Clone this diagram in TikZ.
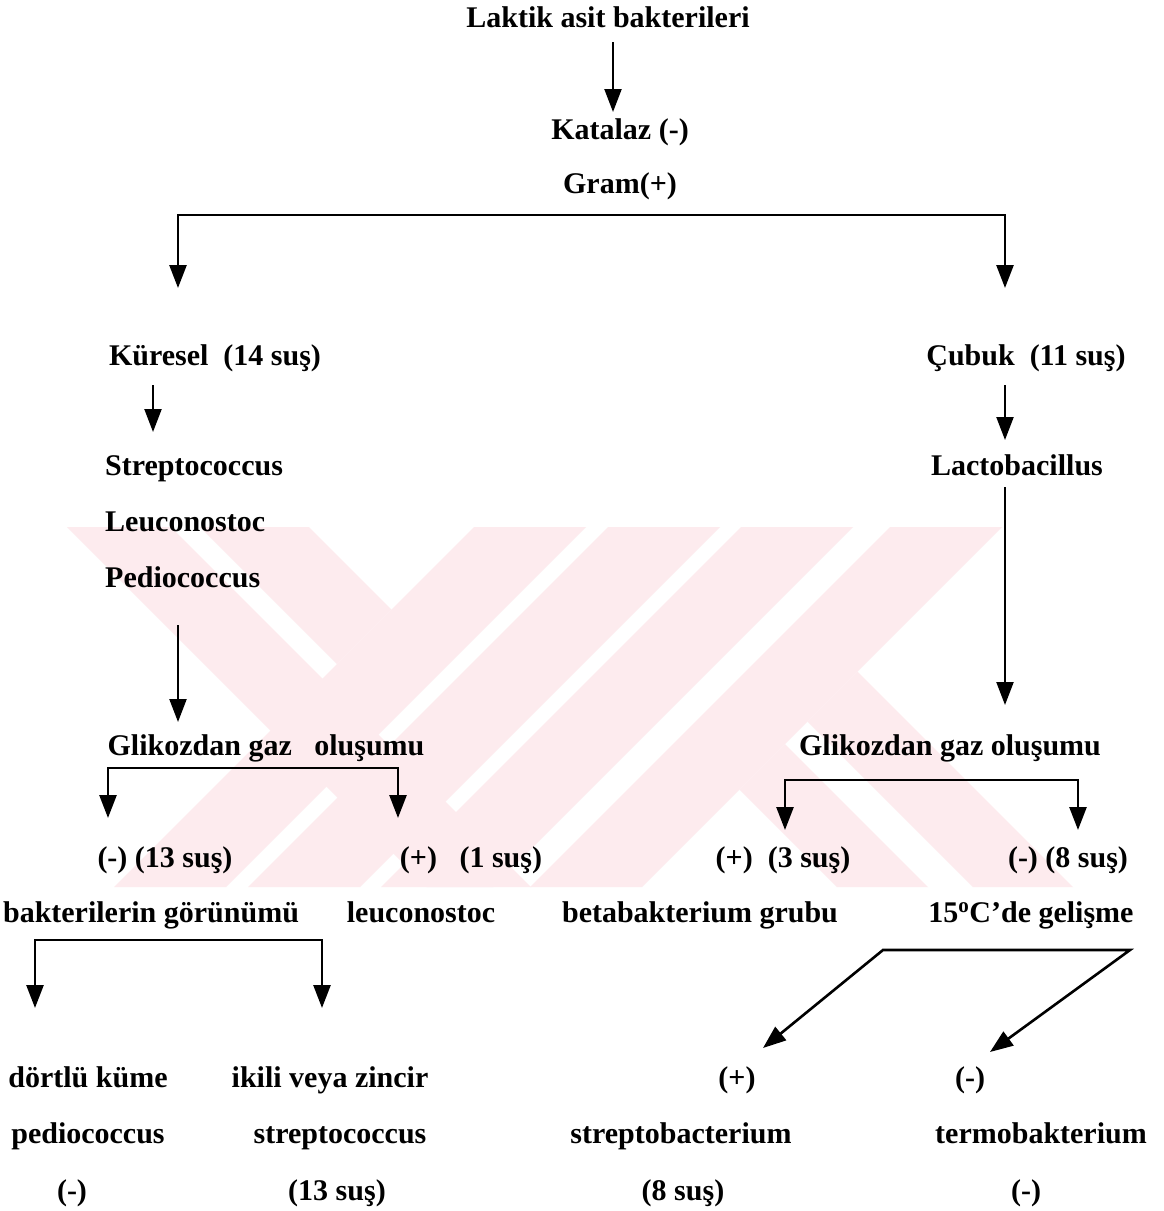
\documentclass[tikz,border=0pt]{standalone}
\usepackage{fontspec}
\setmainfont{Liberation Serif}
\usetikzlibrary{arrows.meta}
\definecolor{wmpink}{RGB}{253,235,238}

\begin{document}
\begin{tikzpicture}[x=1pt,y=-1pt,>={Triangle[length=23pt,width=17pt]},
  lbl/.style={anchor=base,inner sep=0pt,font=\fontsize{30}{32}\selectfont\bfseries},
  lblw/.style={lbl,anchor=base west},
  arr/.style={->,line width=2.2pt},
  fork/.style={<->,line width=2.6pt,line join=miter}]
\useasboundingbox (0,0) rectangle (1164,1211);
\fill[white] (0,0) rectangle (1164,1211);
% watermark bands
\fill[wmpink] (474,527) -- (586,527) -- (226,887) -- (114,887) -- cycle;
\fill[wmpink] (608,527) -- (720,527) -- (360,887) -- (248,887) -- cycle;
\fill[wmpink] (741,527) -- (853,527) -- (493,887) -- (381,887) -- cycle;
\fill[wmpink] (890,527) -- (1002,527) -- (642,887) -- (530,887) -- cycle;
\fill[wmpink] (67,527) -- (171,527) -- (531,887) -- (427,887) -- cycle;
\fill[wmpink] (200,527) -- (309,527) -- (391.5,609.5) -- (337,664) -- cycle;
\fill[wmpink] (785,744) -- (928,887) -- (837,887) -- (739.5,789.5) -- cycle;
\fill[wmpink] (857.5,671.5) -- (1073,887) -- (973,887) -- (807.5,721.5) -- cycle;

% labels
\node[lbl] (lab) at (608,27) {Laktik asit bakterileri};
\node[lbl] (kat) at (620,139) {Katalaz (-)};
\node[lbl] (gram) at (620,193) {Gram(+)};
\node[lbl] (kur) at (215,365) {Küresel\ \ (14 suş)};
\node[lbl] (cub) at (1026,365) {Çubuk\ \ (11 suş)};
\node[lblw] (strep) at (105,475) {Streptococcus};
\node[lblw] (leuc) at (105,531) {Leuconostoc};
\node[lblw] (pedio) at (105,587) {Pediococcus};
\node[lbl] (lacto) at (1017,475) {Lactobacillus};
\node[lbl] (gazl) at (266,755) {Glikozdan gaz\ \ \ oluşumu};
\node[lbl] (gazr) at (950,755) {Glikozdan gaz oluşumu};
\node[lbl] (neg13) at (165,867) {(-) (13 suş)};
\node[lbl] (pos1) at (471,867) {(+)\ \ \ (1 suş)};
\node[lbl] (pos3) at (783,867) {(+)\ \ (3 suş)};
\node[lbl] (neg8) at (1068,867) {(-) (8 suş)};
\node[lbl] (gorun) at (151,922) {bakterilerin görünümü};
\node[lbl] (leucl) at (421,922) {leuconostoc};
\node[lbl] (beta) at (700,922) {betabakterium grubu};
\node[lbl] (gelis) at (1031,922) {15\textsuperscript{o}C’de gelişme};
\node[lbl] (dortlu) at (88,1087) {dörtlü küme};
\node[lbl] (ikili) at (330,1087) {ikili veya zincir};
\node[lbl] (pos15) at (737,1087) {(+)};
\node[lbl] (neg15) at (970,1087) {(-)};
\node[lbl] (pedl) at (88,1143) {pediococcus};
\node[lbl] (strl) at (340,1143) {streptococcus};
\node[lbl] (strb) at (681,1143) {streptobacterium};
\node[lbl] (termo) at (1041,1143) {termobakterium};
\node[lbl] (pedn) at (72,1200) {(-)};
\node[lbl] (str13) at (337,1200) {(13 suş)};
\node[lbl] (strb8) at (683,1200) {(8 suş)};
\node[lbl] (termn) at (1026,1200) {(-)};

% connector ends
\coordinate (a1s) at (613,42);   \coordinate (a1e) at (613,112);
\coordinate (f1l) at (178,215);  \coordinate (f1r) at (1005,215);
\coordinate (f1lt) at (178,288); \coordinate (f1rt) at (1005,288);
\coordinate (a2s) at (153,385);  \coordinate (a2e) at (153,432);
\coordinate (a3s) at (1005,385); \coordinate (a3e) at (1005,440);
\coordinate (a4s) at (178,625);  \coordinate (a4e) at (178,722);
\coordinate (a5s) at (1005,487); \coordinate (a5e) at (1005,705);
\coordinate (f2l) at (108,768);  \coordinate (f2r) at (398,768);
\coordinate (f2lt) at (108,818); \coordinate (f2rt) at (398,818);
\coordinate (f3l) at (785,780);  \coordinate (f3r) at (1078,780);
\coordinate (f3lt) at (785,830); \coordinate (f3rt) at (1078,830);
\coordinate (f4l) at (35,940);   \coordinate (f4r) at (322,940);
\coordinate (f4lt) at (35,1008); \coordinate (f4rt) at (322,1008);
\coordinate (f5l) at (883,950);  \coordinate (f5r) at (1130,950);
\coordinate (f5lt) at (763,1048); \coordinate (f5rt) at (990,1052);

% connectors
\draw[arr] (a1s) -- (a1e);
\draw[fork] (f1lt) -- (f1l) -- (f1r) -- (f1rt);
\draw[arr] (a2s) -- (a2e);
\draw[arr] (a3s) -- (a3e);
\draw[arr] (a4s) -- (a4e);
\draw[arr] (a5s) -- (a5e);
\draw[fork] (f2lt) -- (f2l) -- (f2r) -- (f2rt);
\draw[fork] (f3lt) -- (f3l) -- (f3r) -- (f3rt);
\draw[fork] (f4lt) -- (f4l) -- (f4r) -- (f4rt);
\draw[fork] (f5lt) -- (f5l) -- (f5r) -- (f5rt);
\end{tikzpicture}
\end{document}
